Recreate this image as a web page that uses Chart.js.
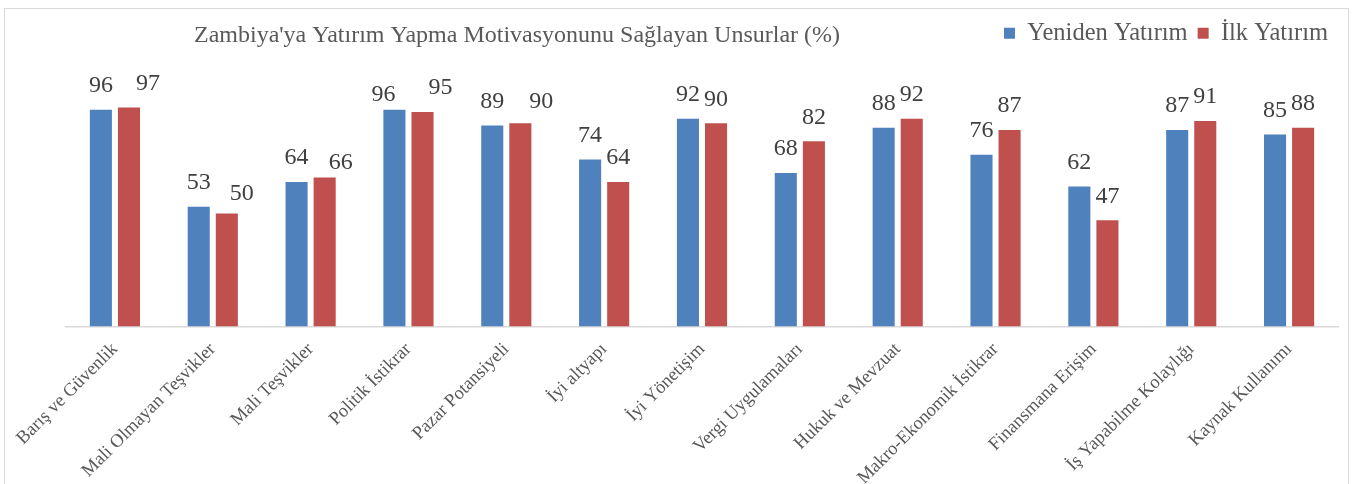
<!DOCTYPE html>
<html>
<head>
<meta charset="utf-8">
<script src="https://cdn.jsdelivr.net/npm/chart.js@4.4.1/dist/chart.umd.min.js"></script>
<style>
    html, body { margin: 0; padding: 0; background: #fff; }
    #frame {
        position: absolute; left: 4px; top: 8px;
        width: 1343px; height: 480px;
        border: 1px solid #d9d9d9; border-bottom: none;
    }
    #wrap { position: absolute; left: 0; top: 0; width: 1363px; height: 484px; }
</style>
</head>
<body>
<div id="frame"></div>
<div id="wrap"><canvas id="motivChart"></canvas></div>
<script>
const categories = [
    "Barış ve Güvenlik", "Mali Olmayan Teşvikler", "Mali Teşvikler", "Politik İstikrar",
    "Pazar Potansiyeli", "İyi altyapı", "İyi Yönetişim", "Vergi Uygulamaları",
    "Hukuk ve Mevzuat", "Makro-Ekonomik İstikrar", "Finansmana Erişim",
    "İş Yapabilme Kolaylığı", "Kaynak Kullanımı"
];
const yenidenYatirim = [96, 53, 64, 96, 89, 74, 92, 68, 88, 76, 62, 87, 85];
const ilkYatirim = [97, 50, 66, 95, 90, 64, 90, 82, 92, 87, 47, 91, 88];

const serif = "'Liberation Serif', 'Times New Roman', serif";

// value labels above bars (a few were moved by hand in the original)
const valueLabels = {
    id: "valueLabels",
    afterDatasetsDraw(chart, args, opts) {
        const ctx = chart.ctx;
        ctx.save();
        ctx.font = "24px " + serif;
        ctx.fillStyle = "#404040";
        ctx.textAlign = "center";
        ctx.textBaseline = "middle";
        chart.data.datasets.forEach((ds, i) => {
            chart.getDatasetMeta(i).data.forEach((bar, j) => {
                const n = (opts.nudge[i] && opts.nudge[i][j]) || [0, 0];
                ctx.fillText(ds.data[j], bar.x + n[0], bar.y - 24 + n[1]);
            });
        });
        ctx.restore();
    }
};

const sideTitle = {
    id: "sideTitle",
    afterDraw(chart, args, opts) {
        const ctx = chart.ctx;
        ctx.save();
        ctx.font = "24px " + serif;
        ctx.fillStyle = "#595959";
        ctx.textAlign = "center";
        ctx.textBaseline = "middle";
        ctx.fillText(opts.text, opts.x, opts.y);
        ctx.restore();
    }
};

new Chart(document.getElementById("motivChart"), {
    type: "bar",
    data: {
        labels: categories,
        datasets: [{
            label: "Yeniden Yatırım",
            data: yenidenYatirim,
            backgroundColor: "#4F81BD",
            categoryPercentage: 0.574,
            barPercentage: 0.786
        }, {
            label: "İlk Yatırım",
            data: ilkYatirim,
            backgroundColor: "#C0504D",
            categoryPercentage: 0.574,
            barPercentage: 0.786
        }]
    },
    options: {
        responsive: true,
        maintainAspectRatio: false,
        animation: false,
        layout: {
            padding: { left: 66, right: 25, top: 11, bottom: -9 }
        },
        plugins: {
            legend: {
                position: "top",
                align: "end",
                labels: {
                    font: { family: serif, size: 24.5 },
                    color: "#595959",
                    boxWidth: 11,
                    boxHeight: 11,
                    padding: 10
                }
            },
            tooltip: { enabled: false },
            sideTitle: {
                text: "Zambiya'ya Yatırım Yapma Motivasyonunu Sağlayan Unsurlar (%)",
                x: 517,
                y: 36
            },
            valueLabels: {
                nudge: {
                    0: { 3: [-11, 9] },
                    1: { 0: [19, 0], 1: [15, 4], 2: [16, 9], 3: [18, 0], 4: [21, 2] }
                }
            }
        },
        scales: {
            x: {
                grid: { display: false },
                border: { display: true, color: "#d9d9d9", width: 1.5 },
                ticks: {
                    font: { family: serif, size: 18.5 },
                    color: "#595959",
                    minRotation: 45,
                    maxRotation: 45,
                    padding: 4
                }
            },
            y: {
                display: false,
                min: 0,
                max: 120
            }
        }
    },
    plugins: [valueLabels, sideTitle]
});
</script>
</body>
</html>
